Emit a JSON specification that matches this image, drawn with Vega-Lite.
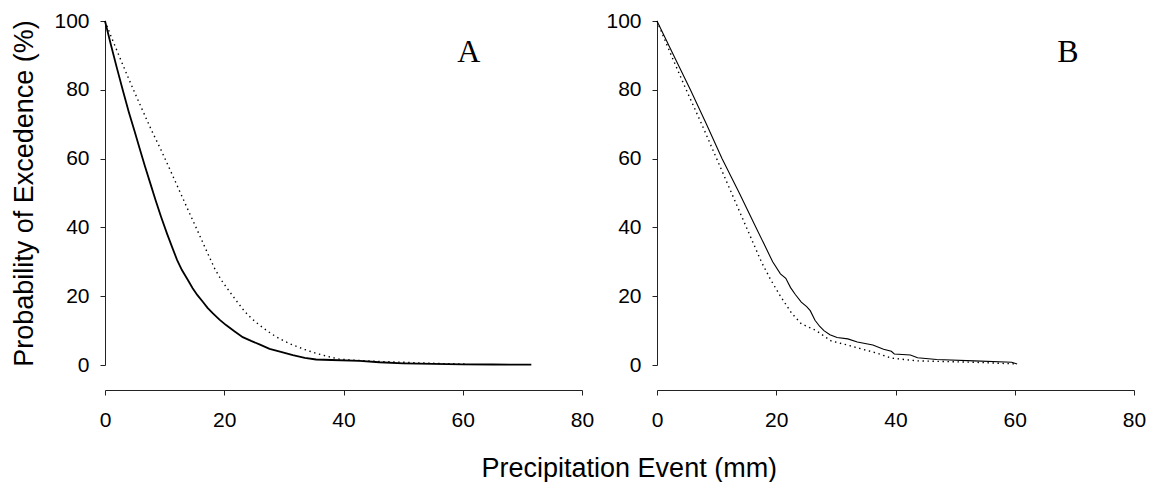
{
  "$schema": "https://vega.github.io/schema/vega-lite/v6.json",
  "padding": {"left": 10, "top": 10, "right": 0, "bottom": 0},
  "background": "white",
  "spacing": 11,
  "config": {
    "view": {"stroke": null},
    "font": "Liberation Sans",
    "axis": {
      "grid": false,
      "domainColor": "#222",
      "tickColor": "#222",
      "labelColor": "black",
      "titleColor": "black",
      "labelFont": "Liberation Sans",
      "titleFont": "Liberation Sans",
      "labelFontSize": 21,
      "titleFontSize": 27,
      "titleFontWeight": "normal",
      "tickSize": 5,
      "labelFlush": false,
      "labelOverlap": false
    }
  },
  "title": {
    "text": "Precipitation Event (mm)",
    "orient": "bottom",
    "anchor": "middle",
    "font": "Liberation Sans",
    "fontSize": 27,
    "fontWeight": "normal",
    "color": "black",
    "offset": 26,
    "dx": 51
  },
  "datasets": {
    "curves": [
      {"p":"A","s":"solid","x":0,"y":100},{"p":"A","s":"solid","x":1,"y":93},{"p":"A","s":"solid","x":2,"y":86.3},{"p":"A","s":"solid","x":3,"y":79.8},{"p":"A","s":"solid","x":4,"y":73.5},{"p":"A","s":"solid","x":5,"y":67.7},{"p":"A","s":"solid","x":5.8,"y":63},{"p":"A","s":"solid","x":6.7,"y":57.8},{"p":"A","s":"solid","x":7.6,"y":52.8},{"p":"A","s":"solid","x":8.5,"y":47.8},{"p":"A","s":"solid","x":9.4,"y":43.1},{"p":"A","s":"solid","x":10.4,"y":38.2},{"p":"A","s":"solid","x":11.4,"y":33.6},{"p":"A","s":"solid","x":12.1,"y":30.5},{"p":"A","s":"solid","x":12.9,"y":27.6},{"p":"A","s":"solid","x":13.9,"y":24.7},{"p":"A","s":"solid","x":14.7,"y":22.3},{"p":"A","s":"solid","x":15.5,"y":20.3},{"p":"A","s":"solid","x":16.4,"y":18.4},{"p":"A","s":"solid","x":17.2,"y":16.6},{"p":"A","s":"solid","x":18.1,"y":15},{"p":"A","s":"solid","x":19.2,"y":13.2},{"p":"A","s":"solid","x":20.3,"y":11.6},{"p":"A","s":"solid","x":21.7,"y":9.8},{"p":"A","s":"solid","x":23.1,"y":8.1},{"p":"A","s":"solid","x":24.5,"y":7},{"p":"A","s":"solid","x":25.9,"y":6},{"p":"A","s":"solid","x":27.6,"y":4.7},{"p":"A","s":"solid","x":29.5,"y":3.8},{"p":"A","s":"solid","x":31.5,"y":2.9},{"p":"A","s":"solid","x":33.5,"y":2.1},{"p":"A","s":"solid","x":35.4,"y":1.6},{"p":"A","s":"solid","x":38,"y":1.45},{"p":"A","s":"solid","x":42.7,"y":1.2},{"p":"A","s":"solid","x":46,"y":0.8},{"p":"A","s":"solid","x":50,"y":0.5},{"p":"A","s":"solid","x":55,"y":0.3},{"p":"A","s":"solid","x":60,"y":0.2},{"p":"A","s":"solid","x":65,"y":0.15},{"p":"A","s":"solid","x":71.5,"y":0.1},
      {"p":"A","s":"dot","x":0,"y":100},{"p":"A","s":"dot","x":1,"y":95.6},{"p":"A","s":"dot","x":2,"y":91.4},{"p":"A","s":"dot","x":3,"y":87.2},{"p":"A","s":"dot","x":4,"y":83.1},{"p":"A","s":"dot","x":5,"y":79.1},{"p":"A","s":"dot","x":6,"y":75.2},{"p":"A","s":"dot","x":7,"y":71.3},{"p":"A","s":"dot","x":8,"y":67.5},{"p":"A","s":"dot","x":9.4,"y":62.5},{"p":"A","s":"dot","x":11,"y":56.4},{"p":"A","s":"dot","x":12.5,"y":50.6},{"p":"A","s":"dot","x":14,"y":44.8},{"p":"A","s":"dot","x":15.5,"y":39.1},{"p":"A","s":"dot","x":17,"y":33.3},{"p":"A","s":"dot","x":18.4,"y":28},{"p":"A","s":"dot","x":19.5,"y":24.7},{"p":"A","s":"dot","x":20.9,"y":21.3},{"p":"A","s":"dot","x":22.2,"y":18.3},{"p":"A","s":"dot","x":23.4,"y":15.6},{"p":"A","s":"dot","x":24.6,"y":13.5},{"p":"A","s":"dot","x":25.9,"y":11.6},{"p":"A","s":"dot","x":27.3,"y":9.8},{"p":"A","s":"dot","x":28.7,"y":8.2},{"p":"A","s":"dot","x":30,"y":7},{"p":"A","s":"dot","x":31.5,"y":5.8},{"p":"A","s":"dot","x":33.5,"y":4.5},{"p":"A","s":"dot","x":35.4,"y":3.4},{"p":"A","s":"dot","x":37.3,"y":2.5},{"p":"A","s":"dot","x":39.3,"y":1.7},{"p":"A","s":"dot","x":42.7,"y":1.3},{"p":"A","s":"dot","x":46.5,"y":1},{"p":"A","s":"dot","x":50,"y":0.8},{"p":"A","s":"dot","x":53,"y":0.6},{"p":"A","s":"dot","x":57,"y":0.4},{"p":"A","s":"dot","x":60.3,"y":0.3},
      {"p":"B","s":"solid","x":0,"y":100},{"p":"B","s":"solid","x":2.8,"y":90},{"p":"B","s":"solid","x":5.6,"y":80},{"p":"B","s":"solid","x":8.3,"y":70},{"p":"B","s":"solid","x":10.9,"y":60},{"p":"B","s":"solid","x":13.8,"y":50},{"p":"B","s":"solid","x":16.6,"y":40},{"p":"B","s":"solid","x":18,"y":35},{"p":"B","s":"solid","x":19.4,"y":30},{"p":"B","s":"solid","x":20.7,"y":26.5},{"p":"B","s":"solid","x":21.6,"y":25.2},{"p":"B","s":"solid","x":22.4,"y":22.5},{"p":"B","s":"solid","x":23.2,"y":20.5},{"p":"B","s":"solid","x":24.2,"y":18.3},{"p":"B","s":"solid","x":25.1,"y":17},{"p":"B","s":"solid","x":25.7,"y":15.8},{"p":"B","s":"solid","x":26.5,"y":13},{"p":"B","s":"solid","x":27.3,"y":11.2},{"p":"B","s":"solid","x":28,"y":10},{"p":"B","s":"solid","x":29,"y":8.8},{"p":"B","s":"solid","x":30.2,"y":8},{"p":"B","s":"solid","x":32,"y":7.6},{"p":"B","s":"solid","x":33.6,"y":6.7},{"p":"B","s":"solid","x":36.2,"y":5.8},{"p":"B","s":"solid","x":38,"y":4.6},{"p":"B","s":"solid","x":39.3,"y":4},{"p":"B","s":"solid","x":39.8,"y":3.2},{"p":"B","s":"solid","x":42.5,"y":2.9},{"p":"B","s":"solid","x":43.7,"y":2.1},{"p":"B","s":"solid","x":46.9,"y":1.6},{"p":"B","s":"solid","x":53.2,"y":1.2},{"p":"B","s":"solid","x":59.5,"y":0.8},{"p":"B","s":"solid","x":60.4,"y":0.3},
      {"p":"B","s":"dot","x":0,"y":100},{"p":"B","s":"dot","x":2.4,"y":90},{"p":"B","s":"dot","x":4.9,"y":80},{"p":"B","s":"dot","x":7.5,"y":70},{"p":"B","s":"dot","x":10,"y":60},{"p":"B","s":"dot","x":12.5,"y":50},{"p":"B","s":"dot","x":15,"y":40},{"p":"B","s":"dot","x":17.5,"y":30},{"p":"B","s":"dot","x":19,"y":25},{"p":"B","s":"dot","x":20.7,"y":20},{"p":"B","s":"dot","x":22.6,"y":15},{"p":"B","s":"dot","x":24.2,"y":12},{"p":"B","s":"dot","x":26.7,"y":10},{"p":"B","s":"dot","x":29.2,"y":7},{"p":"B","s":"dot","x":31.5,"y":6},{"p":"B","s":"dot","x":33.6,"y":5},{"p":"B","s":"dot","x":36.8,"y":3.5},{"p":"B","s":"dot","x":39.3,"y":2},{"p":"B","s":"dot","x":43.7,"y":1.2},{"p":"B","s":"dot","x":53.2,"y":0.8},{"p":"B","s":"dot","x":60.4,"y":0.3}
    ],
    "labels": [
      {"p":"A","x":61,"y":88.1,"label":"A"},
      {"p":"B","x":68.9,"y":88.1,"label":"B"}
    ]
  },
  "hconcat": [
    {
      "width": 477,
      "height": 344,
      "layer": [
        {
          "data": {"name": "curves"},
          "transform": [{"filter": "datum.p === 'A' && datum.s === 'dot'"}],
          "mark": {"type": "line", "color": "black", "strokeWidth": 1.4, "strokeDash": [1.4, 3.6]},
          "encoding": {
            "x": {"field": "x", "type": "quantitative", "scale": {"domain": [0, 80], "nice": false}, "axis": {"values": [0, 20, 40, 60, 80], "offset": 25, "title": null, "labelPadding": 14}},
            "y": {"field": "y", "type": "quantitative", "scale": {"domain": [0, 100], "nice": false}, "axis": {"values": [0, 20, 40, 60, 80, 100], "title": "Probability of Excedence (%)", "labelPadding": 11, "titlePadding": 15}}
          }
        },
        {
          "data": {"name": "curves"},
          "transform": [{"filter": "datum.p === 'A' && datum.s === 'solid'"}],
          "mark": {"type": "line", "color": "black", "strokeWidth": 1.8},
          "encoding": {
            "x": {"field": "x", "type": "quantitative"},
            "y": {"field": "y", "type": "quantitative"}
          }
        },
        {
          "data": {"name": "labels"},
          "transform": [{"filter": "datum.p === 'A'"}],
          "mark": {"type": "text", "font": "Liberation Serif", "fontSize": 32, "align": "center", "baseline": "alphabetic", "color": "black"},
          "encoding": {
            "x": {"field": "x", "type": "quantitative"},
            "y": {"field": "y", "type": "quantitative"},
            "text": {"field": "label"}
          }
        }
      ]
    },
    {
      "width": 477,
      "height": 344,
      "layer": [
        {
          "data": {"name": "curves"},
          "transform": [{"filter": "datum.p === 'B' && datum.s === 'dot'"}],
          "mark": {"type": "line", "color": "black", "strokeWidth": 1.4, "strokeDash": [1.4, 3.6]},
          "encoding": {
            "x": {"field": "x", "type": "quantitative", "scale": {"domain": [0, 80], "nice": false}, "axis": {"values": [0, 20, 40, 60, 80], "offset": 25, "title": null, "labelPadding": 14}},
            "y": {"field": "y", "type": "quantitative", "scale": {"domain": [0, 100], "nice": false}, "axis": {"values": [0, 20, 40, 60, 80, 100], "title": null, "labelPadding": 11}}
          }
        },
        {
          "data": {"name": "curves"},
          "transform": [{"filter": "datum.p === 'B' && datum.s === 'solid'"}],
          "mark": {"type": "line", "color": "black", "strokeWidth": 1.1},
          "encoding": {
            "x": {"field": "x", "type": "quantitative"},
            "y": {"field": "y", "type": "quantitative"}
          }
        },
        {
          "data": {"name": "labels"},
          "transform": [{"filter": "datum.p === 'B'"}],
          "mark": {"type": "text", "font": "Liberation Serif", "fontSize": 32, "align": "center", "baseline": "alphabetic", "color": "black"},
          "encoding": {
            "x": {"field": "x", "type": "quantitative"},
            "y": {"field": "y", "type": "quantitative"},
            "text": {"field": "label"}
          }
        }
      ]
    }
  ]
}
